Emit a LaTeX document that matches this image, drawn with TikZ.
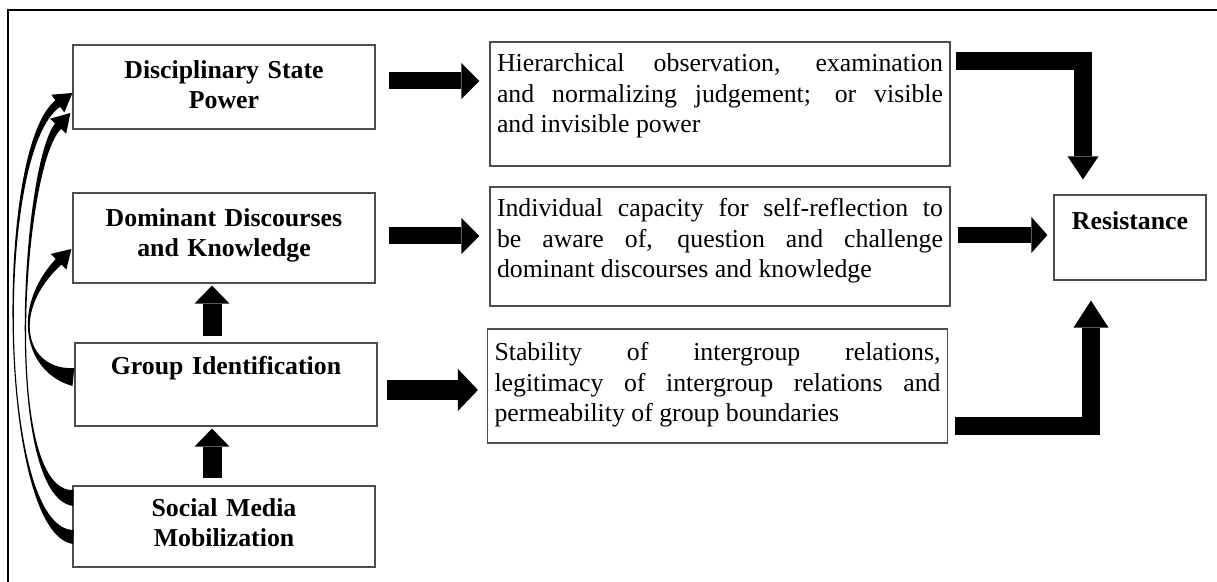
\documentclass[tikz,border=0pt]{standalone}
\usepackage{fontspec}
\setmainfont{Liberation Serif}
\usetikzlibrary{arrows.meta,calc}

\newcommand{\crescentarrow}[6]{%
  \path ($(#4)!9pt!(#3)$) coordinate (hb)
    ($(#1)!#5!90:(#2)$) coordinate (a0) ($(#1)!#5!-90:(#2)$) coordinate (b0)
    ($(#1)!.5pt!90:(#2)$) coordinate (m0) ($(#1)!.5pt!-90:(#2)$) coordinate (n0);
  \path ($(hb)!#6!-90:(#3)$) coordinate (a3) ($(hb)!#6!90:(#3)$) coordinate (b3)
    ($(hb)!.5pt!-90:(#3)$) coordinate (m3) ($(hb)!.5pt!90:(#3)$) coordinate (n3)
    ($(hb)!5.5pt!-90:(#3)$) coordinate (h1) ($(hb)!5.5pt!90:(#3)$) coordinate (h2);
  \fill (a0) .. controls ($(#2)+(m0)-(#1)$) and ($(#3)+(m3)-(hb)$) .. (a3) -- (h1) -- (#4) -- (h2) -- (b3)
    .. controls ($(#3)+(n3)-(hb)$) and ($(#2)+(n0)-(#1)$) .. (b0) -- cycle;}

\begin{document}
\begin{tikzpicture}[x=0.5pt,y=-0.5pt,
    cellbox/.style={draw=black!70,line width=0.6pt,inner xsep=3.5pt,inner ysep=0pt},
    factor/.style={cellbox,font=\fontsize{12.9pt}{14.6pt}\selectfont\bfseries,align=center,text width=144pt},
    detail/.style={cellbox,font=\fontsize{12.9pt}{15.2pt}\selectfont,align=justify,text width=223pt},
    blockarrow/.style n args={3}{line width=#1,-{Triangle[width=#2,length=#3,line width=0pt]}}]
    \useasboundingbox (0,0) rectangle (1217,582);
    \draw[line width=1pt](8,582)--(8,10)--(1217,10);

    \node[factor,text height=17pt,text depth=25pt] (dsp) at (224,87) {Disciplinary State\\Power};
    \node[factor,text height=17pt,text depth=28pt] (ddk) at (224,238) {Dominant Discourses\\and Knowledge};
    \node[factor,text height=16pt,text depth=25.5pt] (grp) at (226,384.5) {Group Identification};
    \node[factor,text height=15.5pt,text depth=25pt] (smm) at (224,526.5) {Social Media\\Mobilization};
    \node[detail,text height=15pt,text depth=47pt] (hier) at (720,104) {Hierarchical observation, examination\linebreak and normalizing judgement; or visible\linebreak and invisible power};
    \node[detail,text height=15pt,text depth=44.5pt] (indiv) at (720,246.5) {Individual capacity for self-reflection to\linebreak be aware of, question and challenge\linebreak dominant discourses and knowledge};
    \node[detail,text height=16pt,text depth=41pt] (stab) at (717.5,386) {Stability of intergroup relations,\linebreak legitimacy of intergroup relations and\linebreak permeability of group boundaries};
    \node[factor,text width=69pt,text height=17.5pt,text depth=25pt] (res) at (1130,237.5) {Resistance};

    \draw[blockarrow={8.5pt}{18pt}{9pt}]($(dsp.east)+(13,-6)$)--($(hier.west)+(-10,-23)$);
    \draw[blockarrow={8.5pt}{18pt}{9pt}]($(ddk.east)+(13,-2)$)--($(indiv.west)+(-10,-10.5)$);
    \draw[blockarrow={10pt}{21pt}{10pt}]($(grp.east)+(9,5.5)$)--($(stab.west)+(-9,4)$);
    \draw[blockarrow={8pt}{18pt}{8pt}]($(indiv.east)+(7,-11.5)$)--($(res.west)+(-6,-2.5)$);
    \draw[blockarrow={9pt}{15.5pt}{11.5pt}]($(hier.east)+(5,-43)$)-|($(res.north)+(-47,-15)$);
    \draw[blockarrow={9pt}{17.5pt}{13.5pt}]($(stab.east)+(7,40)$)-|($(res.south)+(-39,20)$);
    \draw[blockarrow={9.5pt}{17.5pt}{9pt}]($(grp.north)+(-14,-6)$)--($(ddk.south)+(-12,2)$);
    \draw[blockarrow={9.5pt}{17.5pt}{9pt}]($(smm.north)+(-12,-7)$)--($(grp.south)+(-14,2)$);

    \coordinate (g0) at ($(grp.west)+(-1,-7.5)$);
    \coordinate (g1) at (25,372);
    \coordinate (g2) at (10,310);
    \coordinate (g3) at ($(ddk.west)+(-1,11)$);
    \crescentarrow{g0}{g1}{g2}{g3}{4.5pt}{2pt}
    \coordinate (s0) at ($(smm.west)+(1,-28.5)$);
    \coordinate (s1) at (2,495);
    \coordinate (s2) at (22,165);
    \coordinate (s3) at ($(dsp.west)+(-2,26)$);
    \crescentarrow{s0}{s1}{s2}{s3}{4pt}{2pt}
    \coordinate (t0) at ($(smm.west)+(1,10.5)$);
    \coordinate (t1) at (-2,532);
    \coordinate (t2) at (-6,150);
    \coordinate (t3) at ($(dsp.west)+(0,6)$);
    \crescentarrow{t0}{t1}{t2}{t3}{3.5pt}{2pt}
\end{tikzpicture}
\end{document}
